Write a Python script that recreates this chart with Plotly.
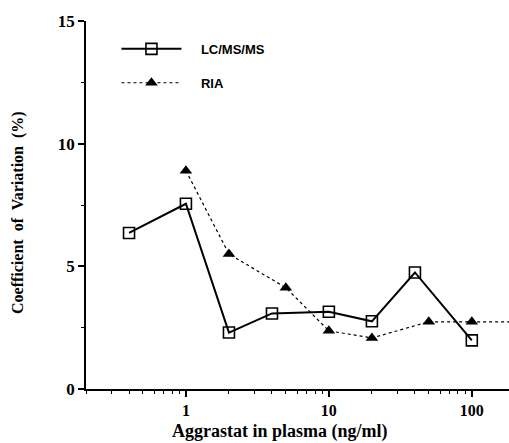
import numpy as np
import plotly.graph_objects as go

lc_x = [0.4, 1, 2, 4, 10, 20, 40, 100]
lc_y = [6.36, 7.55, 2.3, 3.08, 3.15, 2.76, 4.75, 1.98]
ria_x = [1, 2, 5, 10, 20, 50, 100, 250]
ria_y = [8.9, 5.5, 4.13, 2.37, 2.08, 2.74, 2.74, 2.74]
x_ticks = [1, 10, 100]
y_ticks = [0, 5, 10, 15]

serif = "Liberation Serif"
sans = "Liberation Sans"

fig = go.Figure()
fig.add_trace(go.Scatter(
    x=lc_x, y=lc_y, mode="lines+markers", name="    LC/MS/MS", legendgroup="a",
    line=dict(color="black", width=2),
    marker=dict(symbol="square-open", size=11, color="black", line=dict(width=1.6)),
))
fig.add_trace(go.Scatter(
    x=ria_x, y=ria_y, mode="lines+markers", name="    RIA", legendgroup="b",
    line=dict(color="black", width=1.2, dash="dot"),
    marker=dict(symbol="triangle-up", size=11, color="black"),
))

fig.update_layout(
    width=509, height=443,
    margin=dict(l=86, r=0, t=21, b=54),
    paper_bgcolor="white", plot_bgcolor="white",
    showlegend=True,
    legend=dict(x=0.072, y=0.965, xanchor="left", yanchor="top",
                font=dict(family=sans, size=13, color="black", weight="bold"),
                bgcolor="rgba(0,0,0,0)", itemwidth=60, tracegroupgap=14),
    xaxis=dict(
        type="log", range=[np.log10(0.2), np.log10(182)],
        tickvals=x_ticks, ticktext=[str(v) for v in x_ticks],
        ticks="outside", ticklen=6, tickwidth=1.5, tickcolor="black",
        minor=dict(ticks="outside", ticklen=3, tickcolor="black", tickwidth=1, dtick="D1"),
        showline=True, linecolor="black", linewidth=1.5,
        showgrid=False, zeroline=False,
        tickfont=dict(family=serif, size=16, color="black", weight="bold"),
    ),
    yaxis=dict(
        range=[0, 15], tickvals=y_ticks,
        ticks="outside", ticklen=6, tickwidth=1.5, tickcolor="black",
        minor=dict(ticks="outside", ticklen=3, tickcolor="black", tickwidth=1, dtick=2.5),
        showline=True, linecolor="black", linewidth=1.5,
        showgrid=False, zeroline=False,
        tickfont=dict(family=serif, size=17, color="black", weight="bold"),
    ),
    annotations=[
        dict(text="Aggrastat in plasma (ng/ml)", xref="paper", yref="paper",
             x=(280 - 86) / 423, y=(389 - 444) / 368, showarrow=False,
             yanchor="bottom", xanchor="center",
             font=dict(family=serif, size=18, color="black", weight="bold")),
        dict(text="Coefficient  of  Variation  (%)", xref="paper", yref="paper",
             x=-(86 - 18) / 423, y=(389 - 213) / 368, textangle=-90, showarrow=False,
             xanchor="center", yanchor="middle",
             font=dict(family=serif, size=16, color="black", weight="bold")),
    ],
)
fig.write_html("out.html")
